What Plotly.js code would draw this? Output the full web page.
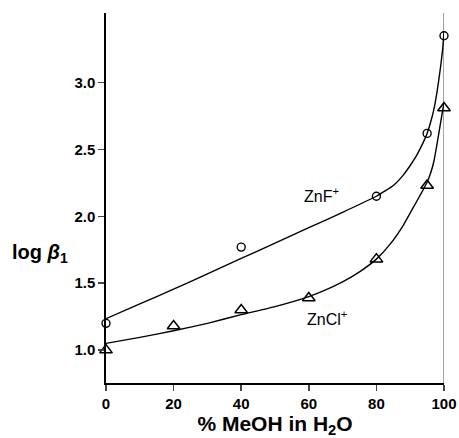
<!DOCTYPE html>
<html><head><meta charset="utf-8">
<script src="https://cdn.plot.ly/plotly-3.0.1.min.js"></script>
<style>html,body{margin:0;padding:0;background:#fff}#c{width:459px;height:438px}</style>
</head><body><div id="c"></div>
<script>
// measured points
const znfX = [0, 40, 80, 95, 100];
const znfY = [1.20, 1.77, 2.15, 2.62, 3.35];
const znclX = [0, 20, 40, 60, 80, 95, 100];
const znclY = [1.00, 1.18, 1.30, 1.39, 1.68, 2.23, 2.81];
// fitted curves
const znfCurveX = [0, 10, 20, 30, 40, 50, 60, 70, 80, 85, 88, 90, 92, 94, 95, 96, 97, 98, 99, 99.6, 100];
const znfCurveY = [1.235, 1.345, 1.455, 1.57, 1.685, 1.80, 1.915, 2.03, 2.15, 2.23, 2.31, 2.38, 2.46, 2.56, 2.62, 2.70, 2.80, 2.94, 3.12, 3.25, 3.38];
const znclCurveX = [0, 10, 20, 30, 40, 50, 60, 65, 70, 75, 80, 84, 88, 91, 93, 95, 96, 97, 98, 99, 100];
const znclCurveY = [1.05, 1.095, 1.145, 1.20, 1.265, 1.325, 1.40, 1.45, 1.51, 1.585, 1.68, 1.79, 1.935, 2.07, 2.16, 2.255, 2.32, 2.41, 2.55, 2.70, 2.85];
// asymptote at 100 %
const asymX = [100, 100];
const asymY = [0.754, 3.52];
const xTicks = [0, 20, 40, 60, 80, 100];
const yTicks = [1.0, 1.5, 2.0, 2.5, 3.0];

const font = 'Liberation Sans, Arial, sans-serif';
const traces = [
  {x: asymX, y: asymY, mode: 'lines', line: {color: '#666', width: 1.2}, hoverinfo: 'skip'},
  {x: znfCurveX, y: znfCurveY, mode: 'lines', line: {color: '#000', width: 1.4, shape: 'spline', smoothing: 0.4}},
  {x: znclCurveX, y: znclCurveY, mode: 'lines', line: {color: '#000', width: 1.4, shape: 'spline', smoothing: 0.4}},
  {x: znfX, y: znfY, mode: 'markers', cliponaxis: false,
   marker: {symbol: 'circle-open', size: 8, color: '#000', line: {width: 1.4, color: '#000'}}},
  {x: znclX, y: znclY, mode: 'markers', cliponaxis: false,
   marker: {symbol: 'triangle-up-open', size: 11, color: '#000', line: {width: 1.5, color: '#000'}}}
];
const layout = {
  width: 459, height: 438,
  margin: {l: 106, r: 15, t: 13, b: 55},
  showlegend: false,
  paper_bgcolor: '#fff', plot_bgcolor: '#fff',
  font: {family: font, color: '#000', size: 15},
  xaxis: {range: [0, 100], tickvals: xTicks, ticks: 'outside', ticklen: 6, tickwidth: 1.6,
    showgrid: false, zeroline: false, showline: true, linewidth: 1.6, linecolor: '#000',
    tickfont: {size: 15, family: font, weight: 'bold'},
    title: {text: '% MeOH in H<sub>2</sub>O', font: {size: 21, family: font, weight: 'bold'}, standoff: 9}},
  yaxis: {range: [0.754, 3.52], tickvals: yTicks, tickformat: '.1f', ticks: 'outside', ticklen: 6, tickwidth: 1.6,
    showgrid: false, zeroline: false, showline: true, linewidth: 1.6, linecolor: '#000',
    tickfont: {size: 15, family: font, weight: 'bold'}},
  annotations: [
    {text: 'log <i>β</i><sub>1</sub>', xref: 'paper', yref: 'paper', x: -0.285, y: 0.35,
     xanchor: 'left', yanchor: 'middle', showarrow: false, font: {size: 20, family: font, weight: 'bold'}},
    {text: 'ZnF<sup>+</sup>', x: 63.7, y: 2.16, showarrow: false, font: {size: 16, family: font}},
    {text: 'ZnCl<sup>+</sup>', x: 65.3, y: 1.24, showarrow: false, font: {size: 16, family: font}}
  ]
};
Plotly.newPlot('c', traces, layout, {displayModeBar: false, staticPlot: true});
</script></body></html>
